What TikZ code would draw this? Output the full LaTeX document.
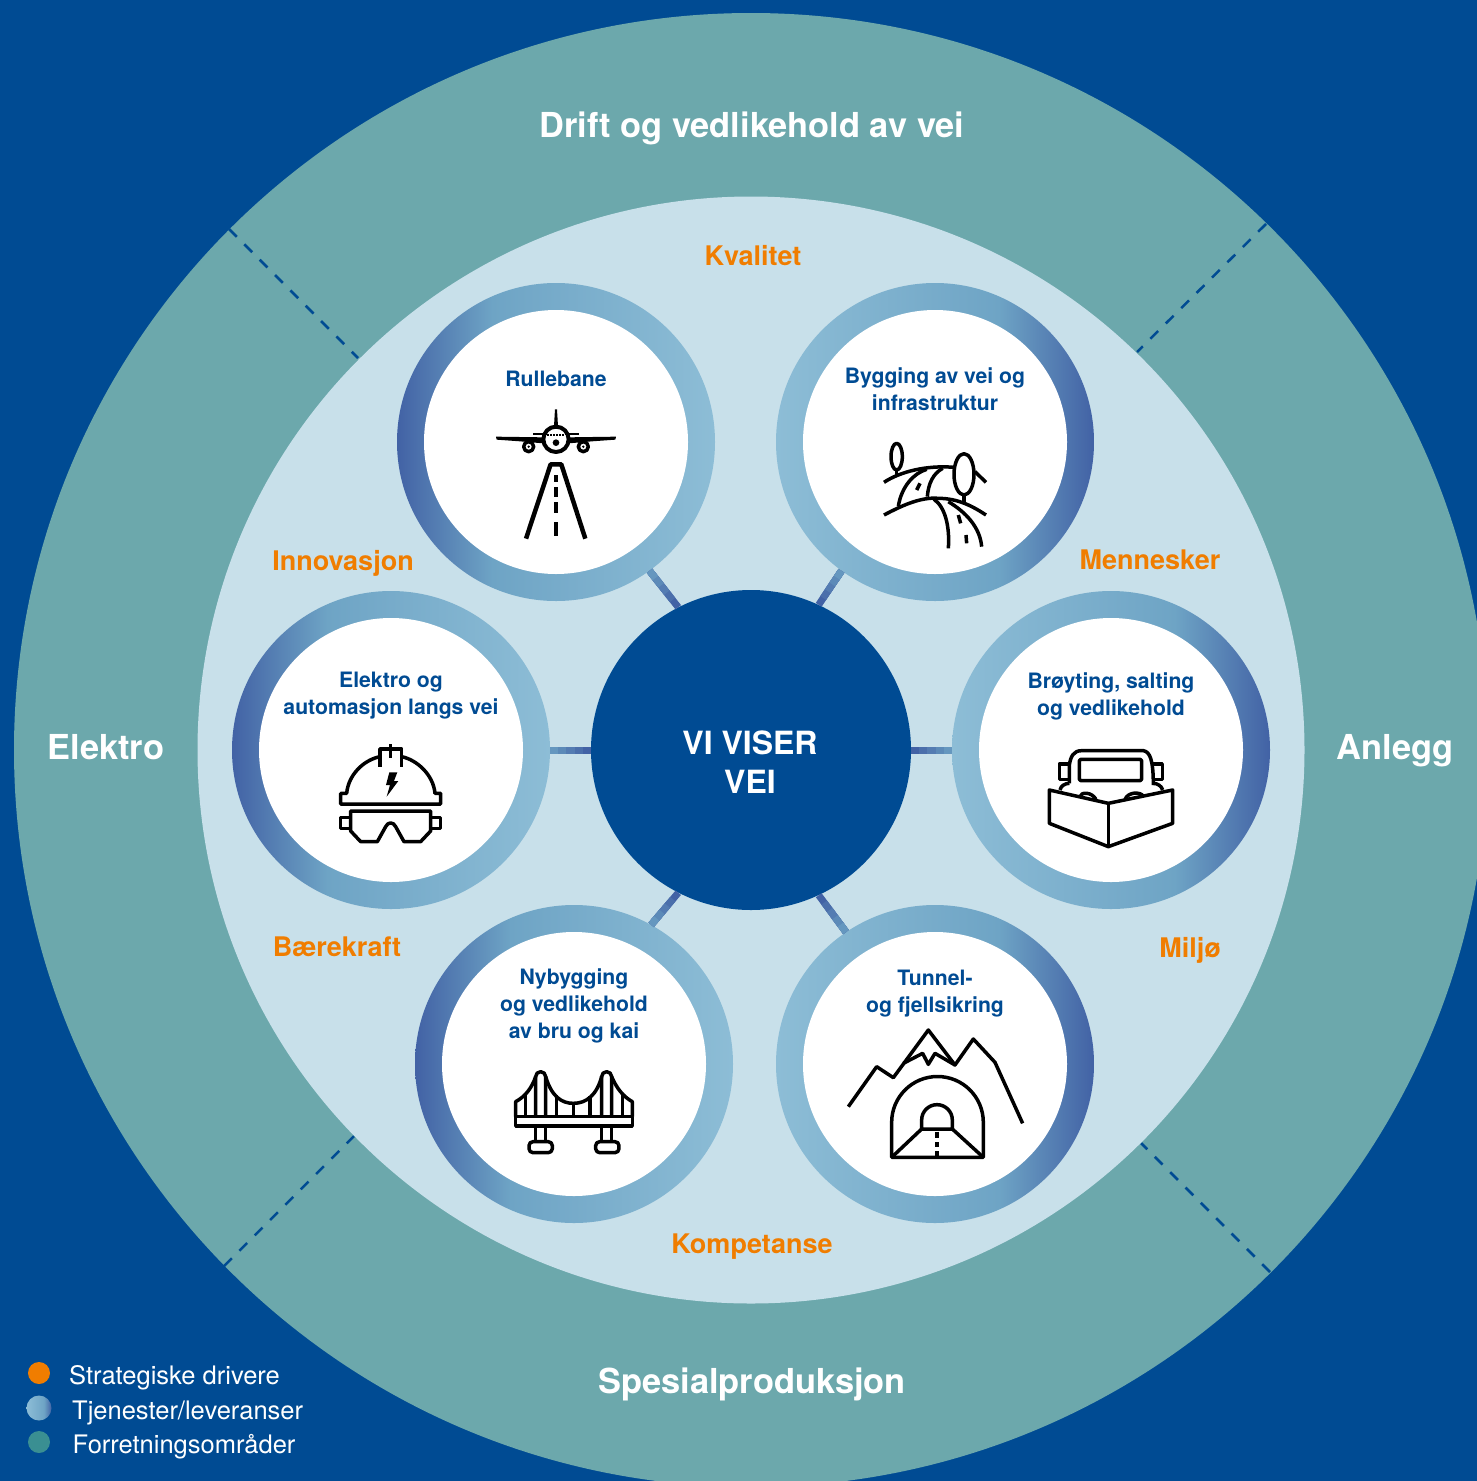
\documentclass[tikz,border=0pt]{standalone}
\usepackage{fontspec}
\usetikzlibrary{calc}
\setmainfont{TeX Gyre Heros}
\definecolor{navy}{HTML}{004B93}
\definecolor{teal}{HTML}{6CA8AC}
\definecolor{pale}{HTML}{C8E0EA}
\definecolor{drive}{HTML}{F07D00}
\definecolor{ringdark}{HTML}{4262A5}
\definecolor{ringmid}{HTML}{6EA4C5}
\definecolor{ringlight}{HTML}{8DBDD6}
\pgfdeclarehorizontalshading{ringleft}{100bp}{color(0bp)=(ringdark); color(25bp)=(ringdark); color(40bp)=(ringmid); color(75bp)=(ringlight); color(100bp)=(ringlight)}
\pgfdeclarehorizontalshading{ringright}{100bp}{color(0bp)=(ringlight); color(25bp)=(ringlight); color(60bp)=(ringmid); color(75bp)=(ringdark); color(100bp)=(ringdark)}
\def\spoke(#1)(#2){\foreach \t/\c in {0/100, 0.2/80, 0.4/60, 0.6/40, 0.8/20}
	\draw[spoke, color=ringdark!\c!ringmid] ($(#1)!\t!(#2)$) -- (#2);}
\tikzset{
	disc/.style={circle, fill=white, minimum size=264pt, inner sep=0pt},
	ringa/.style={circle, shade, shading=ringleft, minimum size=318pt, inner sep=0pt},
	ringb/.style={circle, shade, shading=ringright, minimum size=318pt, inner sep=0pt},
	spoke/.style={line width=7pt},
	divider/.style={line width=2.5pt, color=navy, dash pattern=on 11pt off 10.7pt},
	area/.style={text=white, font=\fontsize{34.4}{40}\selectfont\bfseries},
	driver/.style={text=drive, font=\fontsize{27}{30}\selectfont\bfseries},
	service/.style={text=navy, align=center, font=\fontsize{21.2}{27}\selectfont\bfseries},
	legend/.style={text=white, anchor=west, inner sep=0pt, font=\fontsize{25.5}{30}\selectfont},
	icon/.style={x=0.3333pt, y=-0.3333pt, line width=3.5pt, line join=round}
}
\begin{document}
\begin{tikzpicture}[x=1pt, y=-1pt]
	%%%%% START %%%%%
	\useasboundingbox (0, 0) rectangle (1477, 1481);
	\clip (0, 0) rectangle (1477, 1481);
	\fill[navy] (0, 0) rectangle (1477, 1481);
	\fill[teal] (751, 750) circle (737);

	\coordinate (nwa) at (229, 229);
	\coordinate (nwb) at (358, 358);
	\coordinate (nea) at (1266, 224);
	\coordinate (neb) at (1137, 352);
	\coordinate (swa) at (224, 1266);
	\coordinate (swb) at (354, 1136);
	\coordinate (sea) at (1270, 1272);
	\coordinate (seb) at (1141, 1143);
	\draw[divider] (nwa) -- (nwb);
	\draw[divider] (nea) -- (neb);
	\draw[divider] (swa) -- (swb);
	\draw[divider] (sea) -- (seb);

	\fill[pale] (751, 750) circle (553.5);

	\node[area] (drift) at (752, 128) {Drift og vedlikehold av vei};
	\node[area] (elektroarea) at (106, 747) {Elektro};
	\node[area] (anlegg) at (1395, 751) {Anlegg};
	\node[area] (spesial) at (752, 1384) {Spesialproduksjon};

	\node[driver] (kvalitet) at (753, 256) {Kvalitet};
	\node[driver] (innovasjon) at (343, 563) {Innovasjon};
	\node[driver] (mennesker) at (1150, 560) {Mennesker};
	\node[driver] (baerekraft) at (337, 947) {Bærekraft};
	\node[driver] (miljo) at (1190, 950) {Miljø};
	\node[driver] (kompetanse) at (752, 1247) {Kompetanse};

	\node[circle, fill=navy, minimum size=320pt, inner sep=0pt] (hub) at (751, 750) {};
	\node[align=center, text=white, font=\fontsize{32}{39}\selectfont\bfseries] (hubtext) at (750, 762) {VI VISER\\VEI};

	\node[ringa] (rulle) at (556, 442) {};
	\node[ringb] (bygging) at (935, 442) {};
	\node[ringa] (elektro) at (391, 750) {};
	\node[ringb] (broyting) at (1111, 750) {};
	\node[ringa] (bru) at (574, 1064) {};
	\node[ringb] (tunnel) at (935, 1064) {};

	\spoke(hub.117.4)(rulle.-54)
	\spoke(hub.65.4)(bygging.234.6)
	\spoke(hub.180)(elektro.0)
	\spoke(hub.0)(broyting.180)
	\spoke(hub.-117.7)(bru.61.3)
	\spoke(hub.-65.2)(tunnel.124)

	\node[disc] (rullein) at (rulle) {};
	\node[disc] (byggingin) at (bygging) {};
	\node[disc] (elektroin) at (elektro) {};
	\node[disc] (broytingin) at (broyting) {};
	\node[disc] (bruin) at (bru) {};
	\node[disc] (tunnelin) at (tunnel) {};

	\node[service] (rulletext) at (556, 379) {Rullebane};
	\node[service] (byggingtext) at (935, 389) {Bygging av vei og\\infrastruktur};
	\node[service] (elektrotext) at (391, 696) {Elektro og\\automasjon langs vei};
	\node[service] (broytingtext) at (1111, 696) {Brøyting, salting\\og vedlikehold};
	\node[service] (brutext) at (574, 1006) {Nybygging\\og vedlikehold\\av bru og kai};
	\node[service] (tunneltext) at (935, 994) {Tunnel-\\og fjellsikring};

	% plane and runway
	\begin{scope}[shift={(480, 400)}, icon]
		\fill (222, 78) -- (225, 28) -- (231, 28) -- (234, 78) -- cycle;
		\fill (48, 110) -- (190, 112) -- (190, 130) -- (120, 124) -- (50, 119) -- cycle;
		\fill (408, 110) -- (266, 112) -- (266, 130) -- (336, 124) -- (406, 119) -- cycle;
		\draw[line width=1.8pt] (160, 102) -- (200, 102);
		\draw[line width=1.8pt] (256, 102) -- (296, 102);
		\draw[line width=2pt, dash pattern=on 2pt off 1pt] (202, 105) -- (256, 105);
		\draw[line width=4pt] (228, 118) circle (38);
		\fill (228, 128) circle (10);
		\draw (146, 140) circle (15);
		\fill (146, 140) circle (4);
		\draw (310, 140) circle (15);
		\fill (310, 140) circle (4);
		\draw[line width=4.5pt] (138, 416) -- (212, 193) -- (244, 193) -- (316, 416);
		\foreach \ya/\yb in {225/245, 262/290, 307/340, 367/408}
			\draw[line width=4.5pt] (228, \ya) -- (228, \yb);
	\end{scope}

	% road over the hills
	\begin{scope}[shift={(870, 430)}, icon]
		\draw (80, 80) ellipse (17 and 40);
		\draw (80, 120) -- (80, 135);
		\draw (42, 157) .. controls (90, 125) and (170, 105) .. (252, 112);
		\draw (315, 125) -- (348, 157);
		\draw (85, 228) .. controls (95, 170) and (130, 130) .. (170, 118);
		\draw (172, 200) .. controls (175, 160) and (190, 130) .. (218, 115);
		\draw (150, 160) -- (140, 180);
		\draw (42, 255) .. controls (90, 230) and (150, 200) .. (205, 205) .. controls (265, 205) and (310, 230) .. (348, 255);
		\draw (192, 208) .. controls (225, 230) and (240, 290) .. (235, 355);
		\draw (235, 215) .. controls (285, 245) and (330, 290) .. (335, 350);
		\draw (265, 255) -- (272, 280);
		\draw (288, 315) -- (290, 340);
		\draw[fill=white] (282, 133) ellipse (30 and 62);
		\draw (282, 195) -- (282, 215);
	\end{scope}

	% helmet and goggles
	\begin{scope}[shift={(330, 735)}, icon]
		\draw (150, 65) .. controls (100, 75) and (55, 120) .. (50, 175) -- (32, 175) -- (32, 207) -- (332, 207) -- (332, 175) -- (315, 175) .. controls (310, 120) and (262, 75) .. (215, 65);
		\draw (150, 95) -- (150, 42) -- (215, 42) -- (215, 95);
		\draw (182, 28) -- (182, 70);
		\fill (178, 112) -- (202, 112) -- (192, 138) -- (205, 138) -- (170, 185) -- (180, 150) -- (168, 150) -- cycle;
		\draw (62, 228) -- (302, 228) -- (302, 288) -- (272, 320) -- (222, 320) -- (197, 275) .. controls (190, 260) and (174, 260) .. (167, 275) -- (142, 320) -- (92, 320) -- (62, 288) -- cycle;
		\draw (62, 247) -- (32, 247) -- (32, 280) -- (62, 280);
		\draw (302, 247) -- (332, 247) -- (332, 280) -- (302, 280);
	\end{scope}

	% snow plough
	\begin{scope}[shift={(1040, 740)}, icon]
		\draw (88, 130) -- (88, 75) .. controls (92, 50) and (100, 32) .. (125, 32) -- (310, 32) .. controls (330, 35) and (340, 60) .. (340, 135);
		\draw[rounded corners=1.5pt] (118, 58) rectangle (305, 122);
		\draw (88, 72) -- (58, 72) -- (58, 118) -- (88, 118);
		\draw (340, 72) -- (367, 72) -- (367, 118) -- (340, 118);
		\draw (60, 150) .. controls (62, 138) and (75, 130) .. (88, 130);
		\draw (340, 130) .. controls (352, 130) and (365, 138) .. (368, 150);
		\draw (120, 170) .. controls (122, 155) and (155, 155) .. (168, 178);
		\draw (255, 178) .. controls (265, 155) and (300, 155) .. (310, 168);
		\draw (28, 150) -- (205, 190) -- (398, 150) -- (398, 250) -- (205, 320) -- (28, 250) -- cycle;
		\draw (205, 190) -- (205, 320);
	\end{scope}

	% bridge
	\begin{scope}[shift={(505, 1060)}, icon]
		\draw (32, 170) rectangle (382, 198);
		\draw (92, 170) -- (92, 50) arc (180:360:15) -- (122, 170);
		\draw (290, 170) -- (290, 50) arc (180:360:15) -- (320, 170);
		\draw (92, 198) -- (92, 245);
		\draw (122, 198) -- (122, 245);
		\draw (290, 198) -- (290, 245);
		\draw (320, 198) -- (320, 245);
		\draw (32, 170) -- (32, 125) .. controls (60, 110) and (80, 85) .. (92, 50);
		\draw (122, 50) .. controls (140, 110) and (170, 130) .. (205, 130) .. controls (245, 130) and (275, 105) .. (290, 50);
		\draw (320, 50) .. controls (335, 85) and (355, 110) .. (382, 125) -- (382, 170);
		\foreach \xa/\ya in {62/105, 155/105, 205/130, 255/108, 352/105}
			\draw (\xa, \ya) -- (\xa, 170);
		\draw[rounded corners=4pt] (72, 245) rectangle (142, 278);
		\draw[rounded corners=4pt] (272, 245) rectangle (342, 278);
	\end{scope}

	% mountain and tunnel
	\begin{scope}[shift={(840, 1025)}, icon]
		\draw (25, 245) -- (110, 125) -- (160, 158) -- (265, 15) -- (345, 120) -- (400, 42) -- (465, 112) -- (548, 295);
		\draw (190, 115) -- (248, 85) -- (265, 118) -- (285, 85) -- (345, 120);
		\draw (155, 397) -- (155, 292) arc (180:360:137.5) -- (430, 397) -- cycle;
		\draw (245, 312) -- (245, 285) arc (180:360:46) -- (337, 312) -- cycle;
		\draw (155, 397) -- (245, 312);
		\draw (430, 397) -- (337, 312);
		\foreach \ya/\yb in {320/340, 352/365, 378/397}
			\draw (291, \ya) -- (291, \yb);
	\end{scope}

	\fill[drive] (39, 1373) circle (11);
	\shade[shading=ringright] (39, 1408) circle (12.5);
	\fill[teal!60!navy!90!green] (39, 1442) circle (11);
	\node[legend] (strategi) at (69, 1378) {Strategiske drivere};
	\node[legend] (tjeneste) at (72, 1413) {Tjenester/leveranser};
	\node[legend] (forretning) at (72.5, 1447) {Forretningsområder};
	%%%%% END %%%%%
\end{tikzpicture}
\end{document}
